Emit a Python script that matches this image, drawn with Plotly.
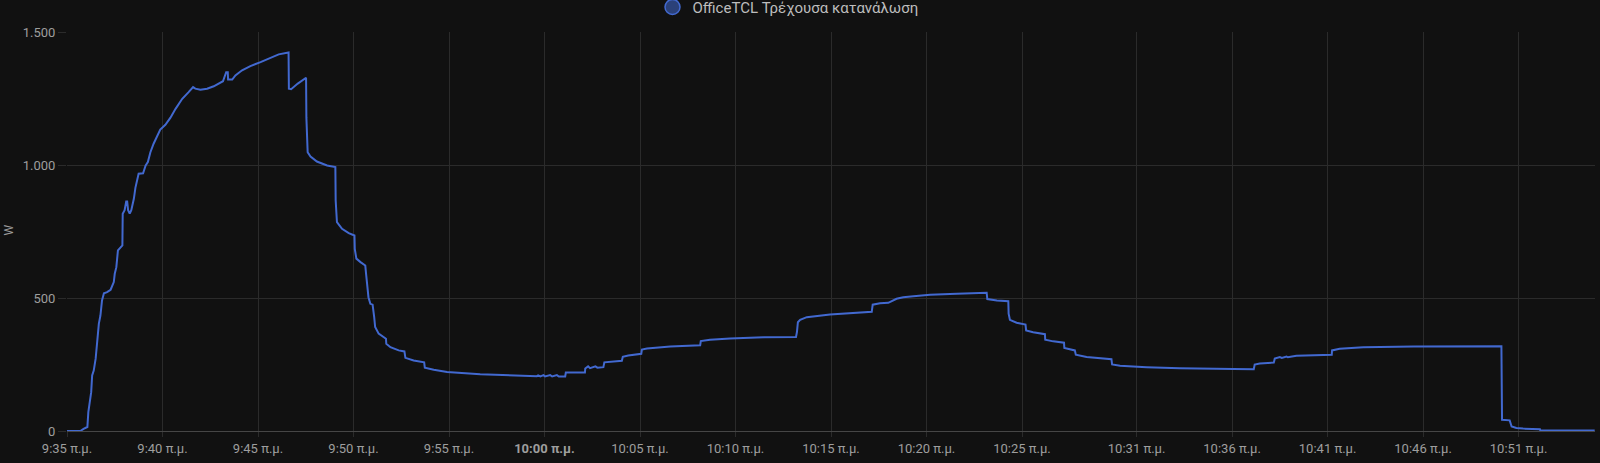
import plotly.graph_objects as go
import pandas as pd

series_name = "OfficeTCL Τρέχουσα κατανάλωση"
y_unit = "W"
day = "2024-01-01 "

times = [
    "09:35:00", "09:35:42", "09:35:52", "09:36:04", "09:36:07", "09:36:16", "09:36:19", "09:36:24",
    "09:36:30", "09:36:35", "09:36:40", "09:36:45", "09:36:50", "09:36:56", "09:37:06", "09:37:17",
    "09:37:22", "09:37:27", "09:37:30", "09:37:35", "09:37:40", "09:37:54", "09:37:55", "09:38:01",
    "09:38:06", "09:38:09", "09:38:12", "09:38:17", "09:38:22", "09:38:26", "09:38:30", "09:38:35",
    "09:38:40", "09:38:45", "09:38:59", "09:39:04", "09:39:07", "09:39:14", "09:39:17", "09:39:22",
    "09:39:32", "09:39:43", "09:39:53", "09:40:09", "09:40:25", "09:40:41", "09:41:02", "09:41:22",
    "09:41:36", "09:41:43", "09:41:59", "09:42:20", "09:42:41", "09:43:10", "09:43:14", "09:43:20",
    "09:43:25", "09:43:26", "09:43:39", "09:43:49", "09:44:10", "09:44:36", "09:45:08", "09:45:39",
    "09:46:05", "09:46:36", "09:46:37", "09:46:44", "09:46:52", "09:47:05", "09:47:31", "09:47:32",
    "09:47:36", "09:47:45", "09:48:05", "09:48:37", "09:49:03", "09:49:04", "09:49:08", "09:49:24",
    "09:49:45", "09:50:03", "09:50:04", "09:50:09", "09:50:22", "09:50:37", "09:50:40", "09:50:47",
    "09:50:53", "09:51:00", "09:51:05", "09:51:08", "09:51:19", "09:51:42", "09:51:43", "09:51:56",
    "09:52:22", "09:52:40", "09:52:43", "09:53:09", "09:53:42", "09:53:44", "09:54:12", "09:54:54",
    "09:56:38", "09:58:23", "09:59:15", "09:59:36", "09:59:40", "09:59:47", "09:59:57", "10:00:02",
    "10:00:18", "10:00:24", "10:00:39", "10:00:45", "10:01:05", "10:01:07", "10:02:07", "10:02:08",
    "10:02:17", "10:02:23", "10:02:40", "10:02:46", "10:03:05", "10:03:08", "10:04:03", "10:04:06",
    "10:04:23", "10:05:04", "10:05:06", "10:05:22", "10:06:35", "10:08:09", "10:08:11", "10:08:40",
    "10:09:43", "10:11:28", "10:13:10", "10:13:13", "10:13:16", "10:13:23", "10:13:44", "10:14:57",
    "10:17:08", "10:17:11", "10:17:34", "10:18:00", "10:18:26", "10:18:47", "10:19:19", "10:20:11",
    "10:21:35", "10:23:09", "10:23:11", "10:23:41", "10:24:17", "10:24:18", "10:24:22", "10:24:43",
    "10:25:11", "10:25:13", "10:25:35", "10:26:12", "10:26:13", "10:26:38", "10:27:12", "10:27:13",
    "10:27:46", "10:27:49", "10:28:23", "10:29:41", "10:29:43", "10:30:08", "10:31:31", "10:33:16",
    "10:36:04", "10:37:08", "10:37:11", "10:37:27", "10:38:11", "10:38:14", "10:38:30", "10:38:36",
    "10:38:51", "10:38:55", "10:39:22", "10:41:13", "10:41:14", "10:41:38", "10:42:52", "10:45:29",
    "10:50:06", "10:50:08", "10:50:32", "10:50:38", "10:50:53", "10:51:14", "10:52:07", "10:52:08",
    "10:54:59",
]

watts = [
    0, 0, 8, 15, 71, 146, 209, 227,
    272, 334, 403, 434, 491, 518, 522, 531,
    547, 560, 591, 616, 679, 698, 817, 830,
    863, 863, 830, 817, 830, 848, 873, 915,
    948, 967, 969, 985, 998, 1011, 1030, 1048,
    1080, 1111, 1133, 1151, 1178, 1211, 1249, 1274,
    1293, 1287, 1283, 1287, 1296, 1315, 1330, 1349,
    1349, 1321, 1321, 1337, 1356, 1372, 1387, 1403,
    1416, 1423, 1287, 1285, 1293, 1306, 1328, 1178,
    1048, 1032, 1013, 998, 992, 867, 785, 760,
    744, 735, 685, 648, 635, 622, 585, 503,
    478, 475, 428, 391, 366, 347, 328, 315,
    303, 299, 275, 265, 258, 238, 230, 222,
    213, 208, 206, 206, 209, 205, 210, 205,
    210, 205, 210, 205, 205, 220, 220, 235,
    243, 236, 243, 238, 240, 258, 264, 279,
    284, 290, 306, 310, 318, 322, 338, 343,
    348, 352, 353, 372, 409, 418, 428, 438,
    448, 475, 480, 482, 497, 503, 507, 512,
    516, 520, 496, 491, 488, 441, 418, 407,
    400, 378, 371, 364, 343, 337, 332, 312,
    303, 287, 278, 270, 250, 245, 240, 236,
    233, 232, 250, 254, 257, 272, 278, 275,
    280, 277, 283, 287, 303, 309, 315, 318,
    319, 42, 40, 17, 11, 9, 7, 2,
    2,
]

tick_times = ["09:35", "09:40", "09:45", "09:50", "09:55", "10:00", "10:05", "10:10",
              "10:15", "10:20", "10:25", "10:31", "10:36", "10:41", "10:46", "10:51"]
tick_labels = ["9:35 π.μ.", "9:40 π.μ.", "9:45 π.μ.", "9:50 π.μ.", "9:55 π.μ.", "<b>10:00 π.μ.</b>",
               "10:05 π.μ.", "10:10 π.μ.", "10:15 π.μ.", "10:20 π.μ.", "10:25 π.μ.", "10:31 π.μ.",
               "10:36 π.μ.", "10:41 π.μ.", "10:46 π.μ.", "10:51 π.μ."]
y_ticks = [0, 500, 1000, 1500]
x_start, x_end = "09:35:00", "10:55:00"

x = pd.to_datetime([day + t for t in times])
line_color = "#4269d0"
grid_color = "#2b2b2b"
text_color = "#9e9e9e"

fig = go.Figure()
fig.add_trace(go.Scatter(
    x=x, y=watts, mode="lines", name=series_name, showlegend=False,
    line=dict(color=line_color, width=2, shape="linear"),
))
fig.add_trace(go.Scatter(
    x=[None], y=[None], mode="markers", name=series_name, showlegend=True,
    marker=dict(symbol="circle", size=15, color="rgba(66,105,208,0.55)",
                line=dict(color=line_color, width=1.5)),
))

fig.add_annotation(text=y_unit, xref="paper", yref="paper", x=-0.0383, y=0.504,
                   textangle=-90, showarrow=False, xanchor="center", yanchor="middle",
                   font=dict(size=12, color=text_color))

fig.update_layout(
    width=1600, height=463,
    paper_bgcolor="#111111", plot_bgcolor="#111111",
    margin=dict(l=67, r=5, t=32, b=32, autoexpand=False),
    separators=",.",
    font=dict(family="Roboto, sans-serif", size=13, color=text_color),
    showlegend=True,
    legend=dict(orientation="h", x=0.4925, xanchor="center", xref="container",
                y=1.062, yanchor="middle", yref="paper",
                font=dict(size=15, color="#bdbdbd"), bgcolor="rgba(0,0,0,0)"),
    xaxis=dict(
        range=[pd.Timestamp(day + x_start), pd.Timestamp(day + x_end)],
        tickvals=[pd.Timestamp(day + t) for t in tick_times], ticktext=tick_labels,
        showgrid=True, gridcolor=grid_color, gridwidth=1,
        ticks="outside", ticklen=5, tickcolor=grid_color,
        showline=True, linecolor="#464646", linewidth=1,
        zeroline=False, automargin=False, tickfont=dict(size=13, color=text_color),
    ),
    yaxis=dict(
        range=[0, 1500], tickvals=y_ticks, tickformat=",d",
        showgrid=True, gridcolor=grid_color, gridwidth=1,
        ticks="outside", ticklen=8, tickcolor=grid_color,
        showline=False, zeroline=False, automargin=False,
        tickfont=dict(size=13, color=text_color),
    ),
)

fig.write_html("out.html", config={"displayModeBar": False},
               post_script="document.body.style.margin='0';document.body.style.background='#111111';")
